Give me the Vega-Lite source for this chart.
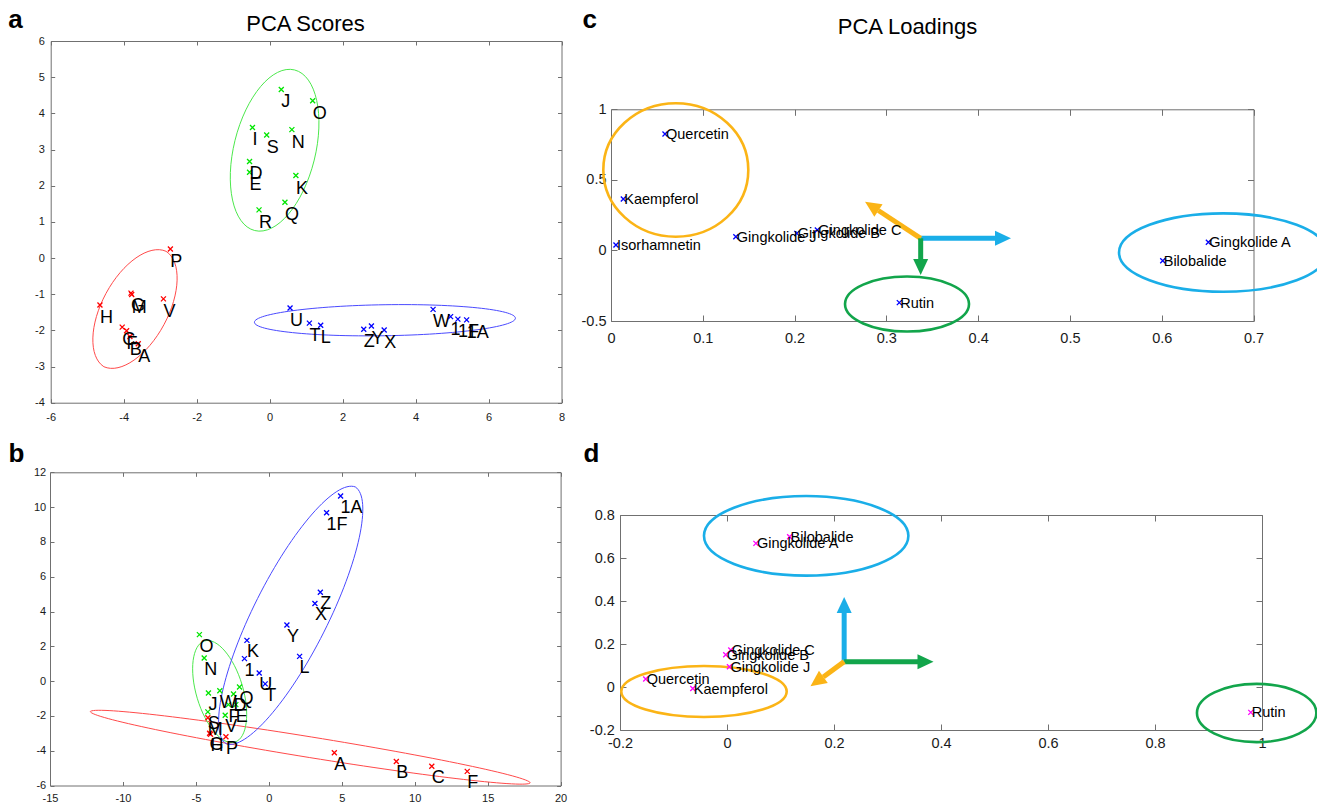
{
  "$schema": "https://vega.github.io/schema/vega-lite/v6.json",
  "width": 1317,
  "height": 802,
  "autosize": {"type": "none"},
  "padding": 0,
  "background": "white",
  "config": {
    "view": {"stroke": null},
    "font": "Liberation Sans",
    "axis": {"domainColor": "#707070", "tickColor": "#707070", "labelColor": "#1a1a1a", "titleColor": "#000000", "grid": false, "labelFlush": false, "labelOverlap": false, "domainWidth": 1, "tickWidth": 1, "labelFont": "Liberation Sans", "titleFont": "Liberation Sans"}
  },
  "datasets": {
    "scoresA": [
      {"x": 0.32, "y": 4.66, "lab": "J", "cl": "g2"},
      {"x": 1.18, "y": 4.35, "lab": "O", "cl": "g2"},
      {"x": -0.47, "y": 3.61, "lab": "I", "cl": "g2"},
      {"x": -0.08, "y": 3.40, "lab": "S", "cl": "g2"},
      {"x": 0.61, "y": 3.55, "lab": "N", "cl": "g2"},
      {"x": -0.55, "y": 2.67, "lab": "D", "cl": "g2"},
      {"x": -0.55, "y": 2.37, "lab": "E", "cl": "g2"},
      {"x": 0.72, "y": 2.28, "lab": "K", "cl": "g2"},
      {"x": 0.42, "y": 1.54, "lab": "Q", "cl": "g2"},
      {"x": -0.29, "y": 1.33, "lab": "R", "cl": "g2"},
      {"x": -2.72, "y": 0.25, "lab": "P", "cl": "g1"},
      {"x": -4.65, "y": -1.30, "lab": "H", "cl": "g1"},
      {"x": -3.80, "y": -0.97, "lab": "G", "cl": "g1"},
      {"x": -3.78, "y": -1.01, "lab": "M", "cl": "g1"},
      {"x": -2.91, "y": -1.13, "lab": "V", "cl": "g1"},
      {"x": -4.04, "y": -1.91, "lab": "C", "cl": "g1"},
      {"x": -3.92, "y": -2.01, "lab": "F", "cl": "g1"},
      {"x": -3.83, "y": -2.17, "lab": "B", "cl": "g1"},
      {"x": -3.60, "y": -2.37, "lab": "A", "cl": "g1"},
      {"x": 0.56, "y": -1.38, "lab": "U", "cl": "g3"},
      {"x": 1.09, "y": -1.80, "lab": "T", "cl": "g3"},
      {"x": 1.40, "y": -1.86, "lab": "L", "cl": "g3"},
      {"x": 2.58, "y": -1.97, "lab": "Z", "cl": "g3"},
      {"x": 2.79, "y": -1.88, "lab": "Y", "cl": "g3"},
      {"x": 3.14, "y": -1.99, "lab": "X", "cl": "g3"},
      {"x": 4.48, "y": -1.42, "lab": "W", "cl": "g3"},
      {"x": 4.96, "y": -1.62, "lab": "1", "cl": "g3"},
      {"x": 5.16, "y": -1.69, "lab": "1F", "cl": "g3"},
      {"x": 5.40, "y": -1.71, "lab": "1A", "cl": "g3"}
    ],
    "scoresB": [
      {"x": 4.92, "y": 10.64, "lab": "1A", "cl": "g3"},
      {"x": 3.96, "y": 9.68, "lab": "1F", "cl": "g3"},
      {"x": 3.53, "y": 5.11, "lab": "Z", "cl": "g3"},
      {"x": 3.16, "y": 4.46, "lab": "X", "cl": "g3"},
      {"x": 1.24, "y": 3.22, "lab": "Y", "cl": "g3"},
      {"x": -1.50, "y": 2.34, "lab": "K", "cl": "g3"},
      {"x": -1.67, "y": 1.29, "lab": "1", "cl": "g3"},
      {"x": 2.11, "y": 1.42, "lab": "L", "cl": "g3"},
      {"x": -0.66, "y": 0.47, "lab": "U", "cl": "g3"},
      {"x": -0.25, "y": -0.16, "lab": "T", "cl": "g3"},
      {"x": -4.76, "y": 2.67, "lab": "O", "cl": "g2"},
      {"x": -4.43, "y": 1.33, "lab": "N", "cl": "g2"},
      {"x": -4.14, "y": -0.68, "lab": "J", "cl": "g2"},
      {"x": -3.36, "y": -0.55, "lab": "W", "cl": "g2"},
      {"x": -2.42, "y": -0.74, "lab": "D", "cl": "g2"},
      {"x": -2.01, "y": -0.34, "lab": "Q", "cl": "g2"},
      {"x": -2.77, "y": -1.35, "lab": "F", "cl": "g2"},
      {"x": -2.26, "y": -1.35, "lab": "E", "cl": "g2"},
      {"x": -4.18, "y": -1.77, "lab": "S", "cl": "g2"},
      {"x": -2.99, "y": -1.96, "lab": "V", "cl": "g2"},
      {"x": -4.18, "y": -2.11, "lab": "M", "cl": "g1"},
      {"x": -4.06, "y": -3.00, "lab": "G", "cl": "g1"},
      {"x": -4.00, "y": -3.05, "lab": "H", "cl": "g1"},
      {"x": -2.94, "y": -3.20, "lab": "P", "cl": "g1"},
      {"x": 4.49, "y": -4.12, "lab": "A", "cl": "g1"},
      {"x": 8.74, "y": -4.62, "lab": "B", "cl": "g1"},
      {"x": 11.17, "y": -4.89, "lab": "C", "cl": "g1"},
      {"x": 13.60, "y": -5.19, "lab": "F", "cl": "g1"}
    ],
    "loadC": [
      {"x": 0.0588, "y": 0.825, "lab": "Quercetin"},
      {"x": 0.0134, "y": 0.364, "lab": "Kaempferol"},
      {"x": 0.0054, "y": 0.038, "lab": "Isorhamnetin"},
      {"x": 0.136, "y": 0.097, "lab": "Gingkolide J"},
      {"x": 0.2024, "y": 0.121, "lab": "Gingkolide B"},
      {"x": 0.2248, "y": 0.145, "lab": "Gingkolide C"},
      {"x": 0.3141, "y": -0.370, "lab": "Rutin"},
      {"x": 0.6508, "y": 0.058, "lab": "Gingkolide A"},
      {"x": 0.6011, "y": -0.073, "lab": "Bilobalide"}
    ],
    "loadD": [
      {"x": 0.117, "y": 0.699, "lab": "Bilobalide"},
      {"x": 0.054, "y": 0.668, "lab": "Gingkolide A"},
      {"x": 0.007, "y": 0.172, "lab": "Gingkolide C"},
      {"x": -0.0024, "y": 0.150, "lab": "Gingkolide B"},
      {"x": 0.0045, "y": 0.094, "lab": "Gingkolide J"},
      {"x": -0.152, "y": 0.037, "lab": "Quercetin"},
      {"x": -0.064, "y": -0.007, "lab": "Kaempferol"},
      {"x": 0.979, "y": -0.118, "lab": "Rutin"}
    ],
    "arrC": [
      {"grp": "terpene", "dir": "right", "x": 0.3374, "y": 0.086, "xe": 0.4184, "ye": 0.086, "xt": 0.4358, "yt": 0.086},
      {"grp": "flavonol", "dir": "upleft", "x": 0.3374, "y": 0.086, "xe": 0.2913, "ye": 0.283, "xt": 0.2768, "yt": 0.345},
      {"grp": "rutin", "dir": "down", "x": 0.3374, "y": 0.086, "xe": 0.3374, "ye": -0.068, "xt": 0.3374, "yt": -0.174}
    ],
    "arrD": [
      {"grp": "terpene", "dir": "up", "x": 0.219, "y": 0.118, "xe": 0.219, "ye": 0.358, "xt": 0.219, "yt": 0.419},
      {"grp": "rutin", "dir": "right", "x": 0.219, "y": 0.118, "xe": 0.358, "ye": 0.118, "xt": 0.386, "yt": 0.118},
      {"grp": "flavonol", "dir": "downleft", "x": 0.219, "y": 0.118, "xe": 0.180, "ye": 0.047, "xt": 0.156, "yt": 0.003}
    ]
  },
  "layer": [
    {
      "layer": [
        {"data": {"values": [{"x": -3.69, "y": -1.41}]}, "mark": {"type": "point", "shape": "M31.1 -57.7A34.3 65.6 28.3 0 1 -31.1 57.7A34.3 65.6 28.3 0 1 31.1 -57.7Z", "size": 4, "filled": false, "stroke": "#ff4a4a", "strokeWidth": 1, "opacity": 1},
         "encoding": {"x": {"field": "x", "type": "quantitative", "scale": {"domain": [-6, 8], "range": [50.7, 561.5], "nice": false, "zero": false}, "axis": null}, "y": {"field": "y", "type": "quantitative", "scale": {"domain": [-4, 6], "range": [402.7, 41], "nice": false, "zero": false}, "axis": null}}},
        {"data": {"values": [{"x": 0.137, "y": 2.98}]}, "mark": {"type": "point", "shape": "M19.9 -80.3A40.8 82.7 13.9 0 1 -19.9 80.3A40.8 82.7 13.9 0 1 19.9 -80.3Z", "size": 4, "filled": false, "stroke": "#4ce84c", "strokeWidth": 1, "opacity": 1},
         "encoding": {"x": {"field": "x", "type": "quantitative", "scale": {"domain": [-6, 8], "range": [50.7, 561.5], "nice": false, "zero": false}, "axis": null}, "y": {"field": "y", "type": "quantitative", "scale": {"domain": [-4, 6], "range": [402.7, 41], "nice": false, "zero": false}, "axis": null}}},
        {"data": {"values": [{"x": 3.16, "y": -1.72}]}, "mark": {"type": "point", "shape": "M-130.5 2A130.5 15.5 -0.9 0 1 130.5 -2A130.5 15.5 -0.9 0 1 -130.5 2Z", "size": 4, "filled": false, "stroke": "#4a4aff", "strokeWidth": 1, "opacity": 1},
         "encoding": {"x": {"field": "x", "type": "quantitative", "scale": {"domain": [-6, 8], "range": [50.7, 561.5], "nice": false, "zero": false}, "axis": null}, "y": {"field": "y", "type": "quantitative", "scale": {"domain": [-4, 6], "range": [402.7, 41], "nice": false, "zero": false}, "axis": null}}},
        {"data": {"name": "scoresA"}, "mark": {"type": "point", "shape": "M-1 -1L1 1M-1 1L1 -1", "size": 25, "filled": false, "strokeWidth": 1.3, "opacity": 1},
         "encoding": {
           "x": {"field": "x", "type": "quantitative", "scale": {"domain": [-6, 8], "range": [50.7, 561.5], "nice": false, "zero": false},
                 "axis": {"orient": "bottom", "offset": -399.3, "values": [-6, -4, -2, 0, 2, 4, 6, 8], "labelExpr": "'' + datum.value", "labelFontSize": 11, "tickSize": -4, "labelPadding": 13, "title": null}},
           "y": {"field": "y", "type": "quantitative", "scale": {"domain": [-4, 6], "range": [402.7, 41], "nice": false, "zero": false},
                 "axis": {"orient": "left", "offset": -50.7, "values": [-4, -3, -2, -1, 0, 1, 2, 3, 4, 5, 6], "labelExpr": "'' + datum.value", "labelFontSize": 11, "tickSize": -4, "labelPadding": 10.4, "title": "a", "titleAngle": 0, "titleX": -43, "titleY": 27, "titleAlign": "left", "titleBaseline": "alphabetic", "titleFontSize": 26, "titleFontWeight": "bold"}},
           "color": {"field": "cl", "type": "nominal", "scale": {"domain": ["g1", "g2", "g3"], "range": ["#ff0000", "#00e600", "#0000ff"]}, "legend": null}
         }},
        {"data": {"name": "scoresA"}, "mark": {"type": "text", "align": "left", "baseline": "alphabetic", "dy": 18, "fontSize": 18, "font": "Liberation Sans", "color": "#000000"},
         "encoding": {
           "x": {"field": "x", "type": "quantitative", "scale": {"domain": [-6, 8], "range": [50.7, 561.5], "nice": false, "zero": false},
                 "axis": {"orient": "top", "offset": -41, "values": [-6, -4, -2, 0, 2, 4, 6, 8], "labels": false, "tickSize": -4, "title": "PCA Scores", "titleX": 305, "titleY": -11, "titleAlign": "center", "titleBaseline": "alphabetic", "titleFontSize": 22, "titleFontWeight": "normal"}},
           "y": {"field": "y", "type": "quantitative", "scale": {"domain": [-4, 6], "range": [402.7, 41], "nice": false, "zero": false},
                 "axis": {"orient": "right", "offset": -755.5, "values": [-4, -3, -2, -1, 0, 1, 2, 3, 4, 5, 6], "labels": false, "tickSize": -4, "title": null}},
           "text": {"field": "lab"}
         }}
      ],
      "resolve": {"axis": {"x": "independent", "y": "independent"}}
    },
    {
      "layer": [
        {"data": {"values": [{"x": 2.84, "y": -3.80}]}, "mark": {"type": "point", "shape": "M-220 -35.6A222.9 10.5 9.2 0 1 220 35.6A222.9 10.5 9.2 0 1 -220 -35.6Z", "size": 4, "filled": false, "stroke": "#ff4a4a", "strokeWidth": 1, "opacity": 1},
         "encoding": {"x": {"field": "x", "type": "quantitative", "scale": {"domain": [-15, 20], "range": [50, 560.6], "nice": false, "zero": false}, "axis": null}, "y": {"field": "y", "type": "quantitative", "scale": {"domain": [-6, 12], "range": [785.5, 472.3], "nice": false, "zero": false}, "axis": null}}},
        {"data": {"values": [{"x": -3.37, "y": -0.60}]}, "mark": {"type": "point", "shape": "M-15.1 -50.6A23.4 52.8 -16.6 0 1 15.1 50.6A23.4 52.8 -16.6 0 1 -15.1 -50.6Z", "size": 4, "filled": false, "stroke": "#4ce84c", "strokeWidth": 1, "opacity": 1},
         "encoding": {"x": {"field": "x", "type": "quantitative", "scale": {"domain": [-15, 20], "range": [50, 560.6], "nice": false, "zero": false}, "axis": null}, "y": {"field": "y", "type": "quantitative", "scale": {"domain": [-6, 12], "range": [785.5, 472.3], "nice": false, "zero": false}, "axis": null}}},
        {"data": {"values": [{"x": 1.50, "y": 3.78}]}, "mark": {"type": "point", "shape": "M64.6 -128.4A38.3 143.8 26.7 0 1 -64.6 128.4A38.3 143.8 26.7 0 1 64.6 -128.4Z", "size": 4, "filled": false, "stroke": "#4a4aff", "strokeWidth": 1, "opacity": 1},
         "encoding": {"x": {"field": "x", "type": "quantitative", "scale": {"domain": [-15, 20], "range": [50, 560.6], "nice": false, "zero": false}, "axis": null}, "y": {"field": "y", "type": "quantitative", "scale": {"domain": [-6, 12], "range": [785.5, 472.3], "nice": false, "zero": false}, "axis": null}}},
        {"data": {"name": "scoresB"}, "mark": {"type": "point", "shape": "M-1 -1L1 1M-1 1L1 -1", "size": 25, "filled": false, "strokeWidth": 1.3, "opacity": 1},
         "encoding": {
           "x": {"field": "x", "type": "quantitative", "scale": {"domain": [-15, 20], "range": [50, 560.6], "nice": false, "zero": false},
                 "axis": {"orient": "bottom", "offset": -16.5, "values": [-15, -10, -5, 0, 5, 10, 15, 20], "labelExpr": "'' + datum.value", "labelFontSize": 11, "tickSize": -4, "labelPadding": 10.5, "title": null}},
           "y": {"field": "y", "type": "quantitative", "scale": {"domain": [-6, 12], "range": [785.5, 472.3], "nice": false, "zero": false},
                 "axis": {"orient": "left", "offset": -50, "values": [-6, -4, -2, 0, 2, 4, 6, 8, 10, 12], "labelExpr": "'' + datum.value", "labelFontSize": 11, "tickSize": -4, "labelPadding": 8.3, "title": "b", "titleAngle": 0, "titleX": -42, "titleY": 461, "titleAlign": "left", "titleBaseline": "alphabetic", "titleFontSize": 26, "titleFontWeight": "bold"}},
           "color": {"field": "cl", "type": "nominal", "scale": {"domain": ["g1", "g2", "g3"], "range": ["#ff0000", "#00e600", "#0000ff"]}, "legend": null}
         }},
        {"data": {"name": "scoresB"}, "mark": {"type": "text", "align": "left", "baseline": "alphabetic", "dy": 17, "fontSize": 18, "font": "Liberation Sans", "color": "#000000"},
         "encoding": {
           "x": {"field": "x", "type": "quantitative", "scale": {"domain": [-15, 20], "range": [50, 560.6], "nice": false, "zero": false},
                 "axis": {"orient": "top", "offset": -472.3, "values": [-15, -10, -5, 0, 5, 10, 15, 20], "labels": false, "tickSize": -4, "title": null}},
           "y": {"field": "y", "type": "quantitative", "scale": {"domain": [-6, 12], "range": [785.5, 472.3], "nice": false, "zero": false},
                 "axis": {"orient": "right", "offset": -756.4, "values": [-6, -4, -2, 0, 2, 4, 6, 8, 10, 12], "labels": false, "tickSize": -4, "title": null}},
           "text": {"field": "lab"}
         }}
      ],
      "resolve": {"axis": {"x": "independent", "y": "independent"}}
    },
    {
      "layer": [
        {"data": {"values": [{"x": 0.0706, "y": 0.570}]}, "mark": {"type": "point", "shape": "M-72.5 0A72.5 66.7 0 0 1 72.5 0A72.5 66.7 0 0 1 -72.5 0Z", "size": 4, "filled": false, "stroke": "#fbb416", "strokeWidth": 2.6, "opacity": 1},
         "encoding": {"x": {"field": "x", "type": "quantitative", "scale": {"domain": [0, 0.7], "range": [611, 1253.5], "nice": false, "zero": false}, "axis": null}, "y": {"field": "y", "type": "quantitative", "scale": {"domain": [-0.5, 1], "range": [321, 109.3], "nice": false, "zero": false}, "axis": null}}},
        {"data": {"values": [{"x": 0.3225, "y": -0.380}]}, "mark": {"type": "point", "shape": "M-62 0A62 27.5 0 0 1 62 0A62 27.5 0 0 1 -62 0Z", "size": 4, "filled": false, "stroke": "#12a54b", "strokeWidth": 2.6, "opacity": 1},
         "encoding": {"x": {"field": "x", "type": "quantitative", "scale": {"domain": [0, 0.7], "range": [611, 1253.5], "nice": false, "zero": false}, "axis": null}, "y": {"field": "y", "type": "quantitative", "scale": {"domain": [-0.5, 1], "range": [321, 109.3], "nice": false, "zero": false}, "axis": null}}},
        {"data": {"values": [{"x": 0.6668, "y": -0.015}]}, "mark": {"type": "point", "shape": "M-104 0A104 39.2 0 0 1 104 0A104 39.2 0 0 1 -104 0Z", "size": 4, "filled": false, "stroke": "#1aaee8", "strokeWidth": 2.6, "opacity": 1},
         "encoding": {"x": {"field": "x", "type": "quantitative", "scale": {"domain": [0, 0.7], "range": [611, 1253.5], "nice": false, "zero": false}, "axis": null}, "y": {"field": "y", "type": "quantitative", "scale": {"domain": [-0.5, 1], "range": [321, 109.3], "nice": false, "zero": false}, "axis": null}}},
        {"data": {"name": "arrC"}, "mark": {"type": "rule", "strokeWidth": 5},
         "encoding": {"x": {"field": "x", "type": "quantitative", "scale": {"domain": [0, 0.7], "range": [611, 1253.5], "nice": false, "zero": false}, "axis": null}, "y": {"field": "y", "type": "quantitative", "scale": {"domain": [-0.5, 1], "range": [321, 109.3], "nice": false, "zero": false}, "axis": null}, "x2": {"field": "xe"}, "y2": {"field": "ye"},
           "color": {"field": "grp", "type": "nominal", "scale": {"domain": ["flavonol", "terpene", "rutin"], "range": ["#fbb416", "#1aaee8", "#12a54b"]}, "legend": null}}},
        {"data": {"name": "arrC"}, "mark": {"type": "point", "size": 4, "filled": true, "opacity": 1, "strokeWidth": 0},
         "encoding": {"x": {"field": "xt", "type": "quantitative", "scale": {"domain": [0, 0.7], "range": [611, 1253.5], "nice": false, "zero": false}, "axis": null}, "y": {"field": "yt", "type": "quantitative", "scale": {"domain": [-0.5, 1], "range": [321, 109.3], "nice": false, "zero": false}, "axis": null},
           "shape": {"field": "dir", "type": "nominal", "scale": {"domain": ["right", "down", "upleft"], "range": ["M0 0L-16 -7.5L-16 7.5Z", "M0 0L-7.5 -16L7.5 -16Z", "M0 0L17.5 2.5L9.3 15.1Z"]}, "legend": null},
           "color": {"field": "grp", "type": "nominal", "scale": {"domain": ["flavonol", "terpene", "rutin"], "range": ["#fbb416", "#1aaee8", "#12a54b"]}, "legend": null}}},
        {"data": {"name": "loadC"}, "mark": {"type": "point", "shape": "M-1 -1L1 1M-1 1L1 -1", "size": 25, "filled": false, "strokeWidth": 1.3, "opacity": 1, "color": "#0000ff"},
         "encoding": {
           "x": {"field": "x", "type": "quantitative", "scale": {"domain": [0, 0.7], "range": [611, 1253.5], "nice": false, "zero": false},
                 "axis": {"orient": "bottom", "offset": -481, "values": [0, 0.1, 0.2, 0.3, 0.4, 0.5, 0.6, 0.7], "labelExpr": "'' + datum.value", "labelFontSize": 14.5, "tickSize": -6, "labelPadding": 16.5, "title": null}},
           "y": {"field": "y", "type": "quantitative", "scale": {"domain": [-0.5, 1], "range": [321, 109.3], "nice": false, "zero": false},
                 "axis": {"orient": "left", "offset": -611, "values": [-0.5, 0, 0.5, 1], "labelExpr": "'' + datum.value", "labelFontSize": 14.5, "tickSize": -6, "labelPadding": 11, "title": "c", "titleAngle": 0, "titleX": -29, "titleY": 27, "titleAlign": "left", "titleBaseline": "alphabetic", "titleFontSize": 26, "titleFontWeight": "bold"}}
         }},
        {"data": {"name": "loadC"}, "mark": {"type": "text", "align": "left", "baseline": "middle", "dx": 1, "dy": 1, "fontSize": 14.5, "font": "Liberation Sans", "color": "#000000"},
         "encoding": {
           "x": {"field": "x", "type": "quantitative", "scale": {"domain": [0, 0.7], "range": [611, 1253.5], "nice": false, "zero": false},
                 "axis": {"orient": "top", "offset": -109.3, "values": [0, 0.1, 0.2, 0.3, 0.4, 0.5, 0.6, 0.7], "labels": false, "tickSize": -6, "title": "PCA Loadings", "titleX": 907, "titleY": -76.3, "titleAlign": "center", "titleBaseline": "alphabetic", "titleFontSize": 22, "titleFontWeight": "normal"}},
           "y": {"field": "y", "type": "quantitative", "scale": {"domain": [-0.5, 1], "range": [321, 109.3], "nice": false, "zero": false},
                 "axis": {"orient": "right", "offset": -63.5, "values": [-0.5, 0, 0.5, 1], "labels": false, "tickSize": -6, "title": null}},
           "text": {"field": "lab"}
         }}
      ],
      "resolve": {"axis": {"x": "independent", "y": "independent"}}
    },
    {
      "layer": [
        {"data": {"values": [{"x": 0.148, "y": 0.703}]}, "mark": {"type": "point", "shape": "M-102.2 0A102.2 39.8 0 0 1 102.2 0A102.2 39.8 0 0 1 -102.2 0Z", "size": 4, "filled": false, "stroke": "#1aaee8", "strokeWidth": 2.6, "opacity": 1},
         "encoding": {"x": {"field": "x", "type": "quantitative", "scale": {"domain": [-0.2, 1], "range": [620, 1262], "nice": false, "zero": false}, "axis": null}, "y": {"field": "y", "type": "quantitative", "scale": {"domain": [-0.2, 0.8], "range": [730, 515], "nice": false, "zero": false}, "axis": null}}},
        {"data": {"values": [{"x": -0.043, "y": -0.021}]}, "mark": {"type": "point", "shape": "M-82.7 0A82.7 25.5 0 0 1 82.7 0A82.7 25.5 0 0 1 -82.7 0Z", "size": 4, "filled": false, "stroke": "#fbb416", "strokeWidth": 2.6, "opacity": 1},
         "encoding": {"x": {"field": "x", "type": "quantitative", "scale": {"domain": [-0.2, 1], "range": [620, 1262], "nice": false, "zero": false}, "axis": null}, "y": {"field": "y", "type": "quantitative", "scale": {"domain": [-0.2, 0.8], "range": [730, 515], "nice": false, "zero": false}, "axis": null}}},
        {"data": {"values": [{"x": 0.990, "y": -0.121}]}, "mark": {"type": "point", "shape": "M-59.7 0A59.7 29.1 0 0 1 59.7 0A59.7 29.1 0 0 1 -59.7 0Z", "size": 4, "filled": false, "stroke": "#12a54b", "strokeWidth": 2.6, "opacity": 1},
         "encoding": {"x": {"field": "x", "type": "quantitative", "scale": {"domain": [-0.2, 1], "range": [620, 1262], "nice": false, "zero": false}, "axis": null}, "y": {"field": "y", "type": "quantitative", "scale": {"domain": [-0.2, 0.8], "range": [730, 515], "nice": false, "zero": false}, "axis": null}}},
        {"data": {"name": "arrD"}, "mark": {"type": "rule", "strokeWidth": 5},
         "encoding": {"x": {"field": "x", "type": "quantitative", "scale": {"domain": [-0.2, 1], "range": [620, 1262], "nice": false, "zero": false}, "axis": null}, "y": {"field": "y", "type": "quantitative", "scale": {"domain": [-0.2, 0.8], "range": [730, 515], "nice": false, "zero": false}, "axis": null}, "x2": {"field": "xe"}, "y2": {"field": "ye"},
           "color": {"field": "grp", "type": "nominal", "scale": {"domain": ["flavonol", "terpene", "rutin"], "range": ["#fbb416", "#1aaee8", "#12a54b"]}, "legend": null}}},
        {"data": {"name": "arrD"}, "mark": {"type": "point", "size": 4, "filled": true, "opacity": 1, "strokeWidth": 0},
         "encoding": {"x": {"field": "xt", "type": "quantitative", "scale": {"domain": [-0.2, 1], "range": [620, 1262], "nice": false, "zero": false}, "axis": null}, "y": {"field": "yt", "type": "quantitative", "scale": {"domain": [-0.2, 0.8], "range": [730, 515], "nice": false, "zero": false}, "axis": null},
           "shape": {"field": "dir", "type": "nominal", "scale": {"domain": ["up", "right", "downleft"], "range": ["M0 0L-7.5 16L7.5 16Z", "M0 0L-16 -7.5L-16 7.5Z", "M0 0L17.3 -3.3L8.5 -15.5Z"]}, "legend": null},
           "color": {"field": "grp", "type": "nominal", "scale": {"domain": ["flavonol", "terpene", "rutin"], "range": ["#fbb416", "#1aaee8", "#12a54b"]}, "legend": null}}},
        {"data": {"name": "loadD"}, "mark": {"type": "point", "shape": "M-1 -1L1 1M-1 1L1 -1", "size": 25, "filled": false, "strokeWidth": 1.3, "opacity": 1, "color": "#ff00ff"},
         "encoding": {
           "x": {"field": "x", "type": "quantitative", "scale": {"domain": [-0.2, 1], "range": [620, 1262], "nice": false, "zero": false},
                 "axis": {"orient": "bottom", "offset": -72, "values": [-0.2, 0, 0.2, 0.4, 0.6, 0.8, 1], "labelExpr": "'' + datum.value", "labelFontSize": 14.5, "tickSize": -6, "labelPadding": 12, "title": null}},
           "y": {"field": "y", "type": "quantitative", "scale": {"domain": [-0.2, 0.8], "range": [730, 515], "nice": false, "zero": false},
                 "axis": {"orient": "left", "offset": -620, "values": [-0.2, 0, 0.2, 0.4, 0.6, 0.8], "labelExpr": "'' + datum.value", "labelFontSize": 14.5, "tickSize": -6, "labelPadding": 11.7, "title": "d", "titleAngle": 0, "titleX": -37, "titleY": 461, "titleAlign": "left", "titleBaseline": "alphabetic", "titleFontSize": 26, "titleFontWeight": "bold"}}
         }},
        {"data": {"name": "loadD"}, "mark": {"type": "text", "align": "left", "baseline": "middle", "dx": 1, "dy": 1, "fontSize": 14.5, "font": "Liberation Sans", "color": "#000000"},
         "encoding": {
           "x": {"field": "x", "type": "quantitative", "scale": {"domain": [-0.2, 1], "range": [620, 1262], "nice": false, "zero": false},
                 "axis": {"orient": "top", "offset": -515, "values": [-0.2, 0, 0.2, 0.4, 0.6, 0.8, 1], "labels": false, "tickSize": -6, "title": null}},
           "y": {"field": "y", "type": "quantitative", "scale": {"domain": [-0.2, 0.8], "range": [730, 515], "nice": false, "zero": false},
                 "axis": {"orient": "right", "offset": -55, "values": [-0.2, 0, 0.2, 0.4, 0.6, 0.8], "labels": false, "tickSize": -6, "title": null}},
           "text": {"field": "lab"}
         }}
      ],
      "resolve": {"axis": {"x": "independent", "y": "independent"}}
    }
  ],
  "resolve": {"scale": {"x": "independent", "y": "independent", "color": "independent", "shape": "independent"}}
}
